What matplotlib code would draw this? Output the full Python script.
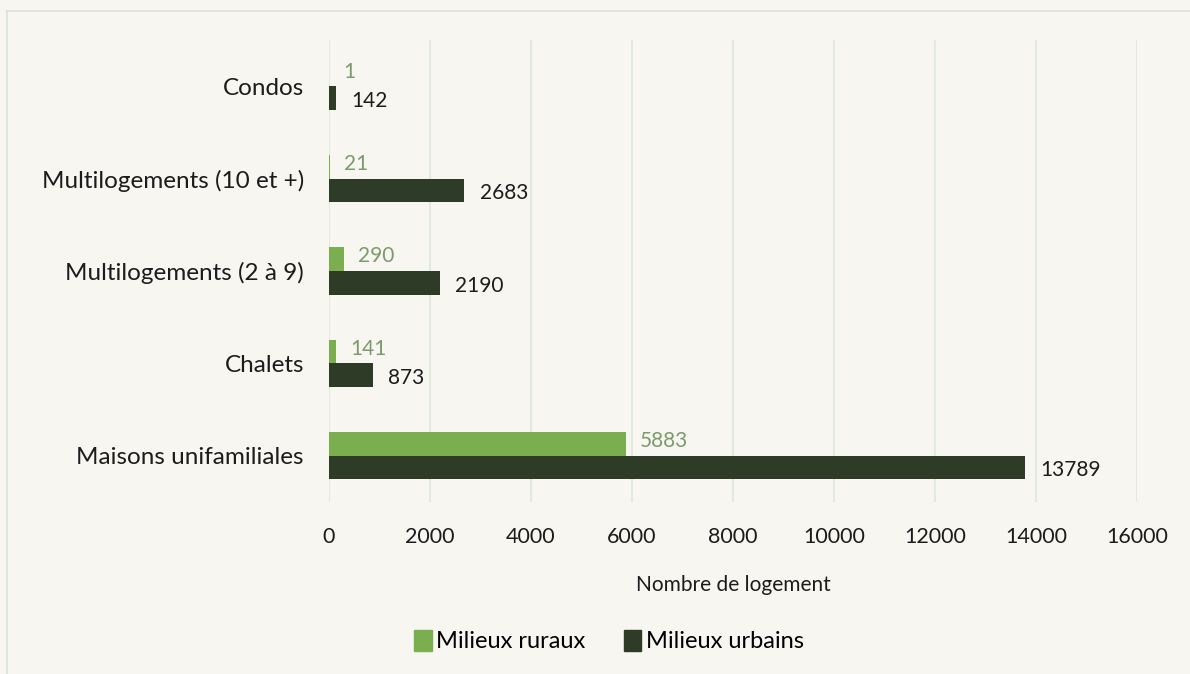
import numpy as np
import matplotlib
matplotlib.use('Agg')
import matplotlib.pyplot as plt
from matplotlib.lines import Line2D
from matplotlib.patches import Patch

# === DATEN ===
CATEGORIES = ['Maisons unifamiliales', 'Chalets', 'Multilogements (2 à 9)',
              'Multilogements (10 et +)', 'Condos']
RURAUX = [5883, 141, 290, 21, 1]
URBAINS = [13789, 873, 2190, 2683, 142]
X_TICKS = [0, 2000, 4000, 6000, 8000, 10000, 12000, 14000, 16000]

# === STIL ===
BG = '#f7f6f1'
GREEN = '#7aae4f'
DARK = '#2e3b26'
GREEN_TXT = '#7d9a6c'
TXT = '#1c1c1c'
GRID = '#e2e9dd'
FONT = ['Lato', 'DejaVu Sans']

plt.rcParams['font.family'] = FONT

fig = plt.figure(figsize=(11.9, 6.74), dpi=100, facecolor=BG)
ax = fig.add_axes([329 / 1190, 1 - 502 / 674, 808 / 1190, 462 / 674])
ax.set_facecolor(BG)

# Rahmen oben/links
fig.add_artist(Line2D([7 / 1190, 1], [1 - 11 / 674] * 2, color='#dbe4d5', lw=1.2))
fig.add_artist(Line2D([7 / 1190] * 2, [0, 1 - 11 / 674], color='#dbe4d5', lw=1.2))

y = np.arange(len(CATEGORIES))
h = 0.255
ax.barh(y + h / 2, RURAUX, height=h, color=GREEN, label='Milieux ruraux', zorder=3)
ax.barh(y - h / 2, URBAINS, height=h, color=DARK, label='Milieux urbains', zorder=3)

for yi, r, u in zip(y, RURAUX, URBAINS):
    ax.annotate(f'{r}', (r, yi + h / 2), xytext=(10, 2), textcoords='offset points',
                ha='left', va='center', color=GREEN_TXT, fontsize=15)
    ax.annotate(f'{u}', (u, yi - h / 2), xytext=(11, -2), textcoords='offset points',
                ha='left', va='center', color=TXT, fontsize=15)

ax.set_xlim(0, 16000)
ax.set_ylim(-0.5, len(CATEGORIES) - 0.5)
ax.set_xticks(X_TICKS)
ax.set_xticklabels([str(t) for t in X_TICKS], fontsize=15.5, color=TXT)
ax.set_yticks(y)
ax.set_yticklabels(CATEGORIES, fontsize=17.5, color=TXT)
ax.tick_params(axis='both', length=0)
ax.tick_params(axis='x', pad=18)
ax.tick_params(axis='y', pad=18)

ax.grid(axis='x', color=GRID, lw=1.5, zorder=0)
for s in ax.spines.values():
    s.set_visible(False)

ax.set_xlabel('Nombre de logement', fontsize=15, color=TXT, labelpad=20)

handles = [Patch(color=GREEN, label='Milieux ruraux'), Patch(color=DARK, label='Milieux urbains')]
fig.legend(handles=handles, loc='center', bbox_to_anchor=(609 / 1190, 1 - 641 / 674), ncol=2,
           frameon=False, prop={'family': FONT, 'size': 17},
           handlelength=0.75, handleheight=1.0, handletextpad=0.2, columnspacing=1.6)

fig.savefig('out.png', dpi=100, facecolor=BG)
